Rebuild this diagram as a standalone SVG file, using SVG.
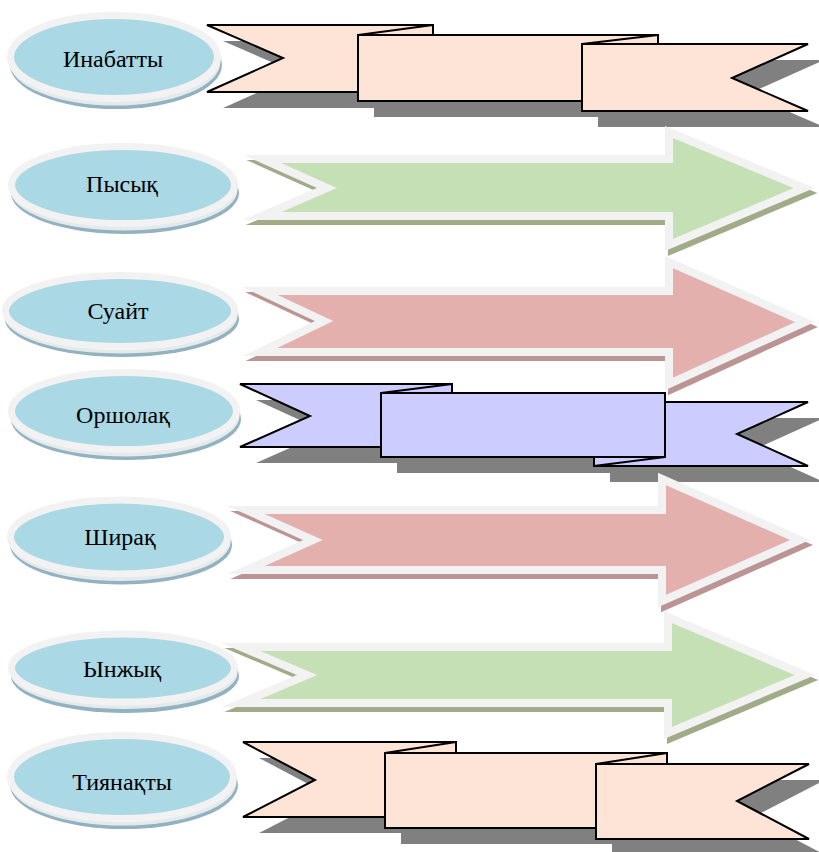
<svg xmlns="http://www.w3.org/2000/svg" width="819" height="852" viewBox="0 0 819 852">
<style>
.bg{fill:#ffffff}
.eshadow{fill:#93b2bf}
.eshadow2{fill:#e3eaed}
.ell{fill:#aad8e5;stroke:#f2f2f2;stroke-width:7}
.lbl{font-family:"Liberation Serif","Times New Roman",serif;font-size:24px;fill:#000000;text-anchor:middle}
.rshadow{fill:#808080}
.peach{fill:#fde4d6;stroke:#000000;stroke-width:2;stroke-linejoin:miter}
.lav{fill:#ccccff;stroke:#000000;stroke-width:2;stroke-linejoin:miter}
.fold{fill:none;stroke:#000000;stroke-width:2}
.agreen{fill:#c5e0b4;stroke:#f2f2f2;stroke-width:8;stroke-miterlimit:10}
.ared{fill:#e4b0ae;stroke:#f2f2f2;stroke-width:8;stroke-miterlimit:10}
.gshadow{fill:#a1ab88;stroke:#a1ab88;stroke-width:8;stroke-miterlimit:10}
.redshadow{fill:#bb9593;stroke:#bb9593;stroke-width:8;stroke-miterlimit:10}
</style>
<rect class="bg" x="0" y="0" width="819" height="852"/>

<!-- Row 1 ribbon -->
<g id="ribbon1">
  <g transform="translate(16,16)">
    <path class="rshadow" d="M207,25 L433,25 L433,92 L207,92 L283,58 Z"/>
    <rect class="rshadow" x="358" y="35" width="300" height="66"/>
    <path class="rshadow" d="M582,44 L808,44 L732,78 L808,111 L582,111 Z"/>
  </g>
  <path class="peach" d="M207,25 L433,25 L433,92 L207,92 L283,58 Z"/>
  <rect class="peach" x="358" y="35" width="300" height="66"/>
  <path class="peach" d="M582,44 L808,44 L732,78 L808,111 L582,111 Z"/>
  <path class="fold" d="M358,35 L433,25 M582,44 L658,35"/>
</g>

<!-- Row 2 arrow -->
<g id="arrow2">
  <path class="gshadow" transform="translate(3,5)" d="M262,159 L669,159 L669,132 L804,188 L669,245 L669,216 L262,216 L327,188 Z"/>
  <path class="agreen" d="M262,159 L669,159 L669,132 L804,188 L669,245 L669,216 L262,216 L327,188 Z"/>
</g>

<!-- Row 3 arrow -->
<g id="arrow3">
  <path class="redshadow" transform="translate(3,5)" d="M260,291 L669,291 L669,262 L805,322 L669,384 L669,352 L260,352 L324,321 Z"/>
  <path class="ared" d="M260,291 L669,291 L669,262 L805,322 L669,384 L669,352 L260,352 L324,321 Z"/>
</g>

<!-- Row 4 ribbon -->
<g id="ribbon4">
  <g transform="translate(16,16)">
    <path class="rshadow" d="M240,384 L452,384 L452,447 L240,447 L310,416 Z"/>
    <path class="rshadow" d="M594,402 L808,402 L737,434 L808,466 L594,466 Z"/>
    <rect class="rshadow" x="381" y="393" width="284" height="64"/>
  </g>
  <path class="lav" d="M240,384 L452,384 L452,447 L240,447 L310,416 Z"/>
  <path class="lav" d="M594,402 L808,402 L737,434 L808,466 L594,466 Z"/>
  <rect class="lav" x="381" y="393" width="284" height="64"/>
  <path class="fold" d="M381,393 L452,384 M594,466 L665,457"/>
</g>

<!-- Row 5 arrow -->
<g id="arrow5">
  <path class="redshadow" transform="translate(3,5)" d="M246,510 L662,510 L662,479 L800,540 L662,601 L662,570 L246,570 L313,540 Z"/>
  <path class="ared" d="M246,510 L662,510 L662,479 L800,540 L662,601 L662,570 L246,570 L313,540 Z"/>
</g>

<!-- Row 6 arrow -->
<g id="arrow6">
  <path class="gshadow" transform="translate(3,5)" d="M241,647 L668,647 L668,617 L805,675 L668,733 L668,703 L241,703 L307,675 Z"/>
  <path class="agreen" d="M241,647 L668,647 L668,617 L805,675 L668,733 L668,703 L241,703 L307,675 Z"/>
</g>

<!-- Row 7 ribbon -->
<g id="ribbon7">
  <g transform="translate(16,16)">
    <path class="rshadow" d="M243,742 L456,742 L456,817 L243,817 L315,780 Z"/>
    <rect class="rshadow" x="385" y="753" width="282" height="75"/>
    <path class="rshadow" d="M596,764 L809,764 L737,801 L809,839 L596,839 Z"/>
  </g>
  <path class="peach" d="M243,742 L456,742 L456,817 L243,817 L315,780 Z"/>
  <rect class="peach" x="385" y="753" width="282" height="75"/>
  <path class="peach" d="M596,764 L809,764 L737,801 L809,839 L596,839 Z"/>
  <path class="fold" d="M385,753 L456,742 M596,764 L667,753"/>
</g>

<!-- Ellipse nodes -->
<g id="node-inabatty">
  <ellipse class="eshadow" cx="116" cy="65" rx="106" ry="44"/>
  <ellipse class="eshadow2" cx="115" cy="62" rx="105.5" ry="43.5"/>
  <ellipse class="ell" cx="114" cy="57" rx="103.5" ry="41.5"/>
  <text class="lbl" x="113" y="67">Инабатты</text>
</g>
<g id="node-pysyk">
  <ellipse class="eshadow" cx="125" cy="193" rx="114" ry="41"/>
  <ellipse class="eshadow2" cx="124" cy="190" rx="113.5" ry="40.5"/>
  <ellipse class="ell" cx="123" cy="185" rx="111.5" ry="38.5"/>
  <text class="lbl" x="122" y="192">Пысық</text>
</g>
<g id="node-suait">
  <ellipse class="eshadow" cx="122" cy="319" rx="117" ry="38"/>
  <ellipse class="eshadow2" cx="121" cy="316" rx="116.5" ry="37.5"/>
  <ellipse class="ell" cx="120" cy="311" rx="114.5" ry="35.5"/>
  <text class="lbl" x="118" y="319">Суайт</text>
</g>
<g id="node-orsholak">
  <ellipse class="eshadow" cx="126" cy="419" rx="115" ry="41"/>
  <ellipse class="eshadow2" cx="125" cy="416" rx="114.5" ry="40.5"/>
  <ellipse class="ell" cx="124" cy="411" rx="112.5" ry="38.5"/>
  <text class="lbl" x="123" y="423">Оршолақ</text>
</g>
<g id="node-shirak">
  <ellipse class="eshadow" cx="121" cy="545" rx="111" ry="39.5"/>
  <ellipse class="eshadow2" cx="120" cy="542" rx="110.5" ry="39"/>
  <ellipse class="ell" cx="119" cy="537" rx="108.5" ry="37"/>
  <text class="lbl" x="120" y="545">Ширақ</text>
</g>
<g id="node-ynzhyk">
  <ellipse class="eshadow" cx="125" cy="676" rx="114" ry="37"/>
  <ellipse class="eshadow2" cx="124" cy="673" rx="113.5" ry="36"/>
  <ellipse class="ell" cx="123" cy="668" rx="111.5" ry="34"/>
  <text class="lbl" x="122" y="677">Ынжық</text>
</g>
<g id="node-tiyanakty">
  <ellipse class="eshadow" cx="124" cy="785" rx="114" ry="44"/>
  <ellipse class="eshadow2" cx="123" cy="782" rx="113.5" ry="43.5"/>
  <ellipse class="ell" cx="122" cy="777" rx="111.5" ry="41.5"/>
  <text class="lbl" x="122" y="790">Тиянақты</text>
</g>

<g id="connectors"/>
</svg>
